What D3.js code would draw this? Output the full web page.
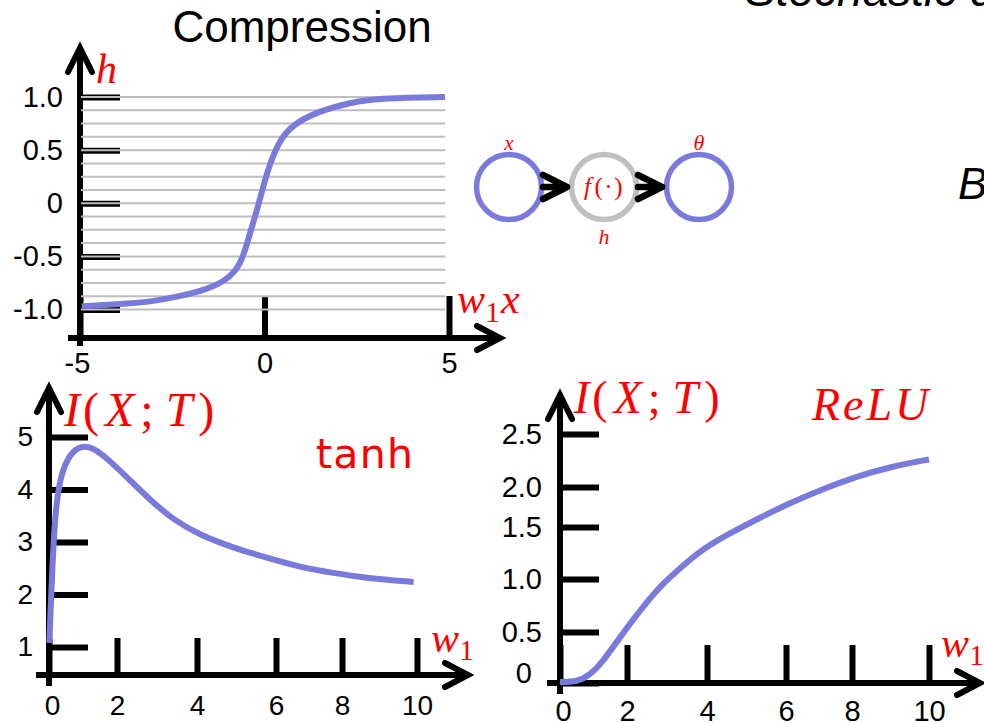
<!DOCTYPE html>
<html>
<head>
<meta charset="utf-8">
<script src="https://cdn.jsdelivr.net/npm/d3@7"></script>
<style>
  body { margin: 0; background: #fff; }
  svg { display: block; }
</style>
</head>
<body>
<script>
// ---- data ----
// compression panel: h against w1*x
var compX = [-4.95, -4.0, -3.1, -2.21, -1.56, -1.12, -0.8, -0.58, -0.39, -0.2, -0.04, 0.15, 0.42, 0.77, 1.42, 2.32, 3.21, 4.89];
var compH = [-0.97, -0.95, -0.93, -0.87, -0.81, -0.74, -0.65, -0.51, -0.28, -0.06, 0.15, 0.38, 0.6, 0.74, 0.86, 0.95, 0.99, 1.0];
var hLevels = [-1, -0.875, -0.75, -0.625, -0.5, -0.375, -0.25, -0.125, 0, 0.125, 0.25, 0.375, 0.5, 0.625, 0.75, 0.875, 1];
var compXTicks = [-5, 0, 5];
var compYTicks = [1.0, 0.5, 0, -0.5, -1.0];
var compYLabels = ["1.0", "0.5", "0", "-0.5", "-1.0"];

// tanh panel: I(X;T) against w1
var tanhW = [0.01, 0.05, 0.1, 0.16, 0.24, 0.37, 0.57, 0.81, 1.06, 1.3, 1.7, 2.24, 2.83, 3.41, 4.08, 4.92, 5.77, 6.73, 7.74, 8.66, 9.91];
var tanhI = [1.08, 1.76, 2.52, 3.29, 3.86, 4.31, 4.62, 4.79, 4.83, 4.79, 4.6, 4.24, 3.8, 3.42, 3.13, 2.89, 2.7, 2.52, 2.41, 2.31, 2.24];
var tanhXTicks = [0, 2, 4, 6, 8, 10];
var tanhYTicks = [1, 2, 3, 4, 5];

// ReLU panel
var reluW = [0, 0.5, 0.9, 1.28, 1.88, 2.4, 2.9, 3.4, 3.9, 4.58, 5.27, 6.12, 7.12, 8.13, 8.99, 10.0];
var reluI = [0.01, 0.01, 0.08, 0.21, 0.49, 0.74, 0.96, 1.13, 1.29, 1.44, 1.6, 1.8, 1.975, 2.1, 2.19, 2.26];
var reluXTicks = [0, 2, 4, 6, 8, 10];
var reluYTicks = [0, 0.5, 1.0, 1.5, 2.0, 2.5];
var reluYLabels = ["0", "0.5", "1.0", "1.5", "2.0", "2.5"];

// network nodes
var nodeNames = ["x", "h", "theta"];

var blue = "#7a7adc", red = "#ff0000", grey = "#bebebe";
var sans = "'Liberation Sans', Arial, sans-serif";
var serif = "'Liberation Serif', 'Times New Roman', serif";

var svg = d3.select("body").append("svg")
    .attr("width", 984)
    .attr("height", 723);

function axisLine(g, x1, y1, x2, y2) {
  g.append("line")
    .attr("x1", x1).attr("y1", y1).attr("x2", x2).attr("y2", y2)
    .attr("stroke", "#000").attr("stroke-width", 6);
}
function arrowUp(g, x, y) {
  g.append("path")
    .attr("d", "M" + (x - 12) + "," + (y + 24) + "L" + x + "," + y + "L" + (x + 12) + "," + (y + 24))
    .attr("fill", "none").attr("stroke", "#000").attr("stroke-width", 6)
    .attr("stroke-linecap", "round").attr("stroke-linejoin", "miter");
}
function arrowRight(g, x, y) {
  g.append("path")
    .attr("d", "M" + (x - 23) + "," + (y - 12) + "L" + x + "," + y + "L" + (x - 23) + "," + (y + 12))
    .attr("fill", "none").attr("stroke", "#000").attr("stroke-width", 6)
    .attr("stroke-linecap", "round").attr("stroke-linejoin", "miter");
}
// red math label; parts = [text, italic, dy, size, dx]
function mathText(g, x, y, size, parts) {
  var t = g.append("text")
    .attr("x", x).attr("y", y)
    .attr("fill", red)
    .attr("font-family", serif)
    .attr("font-size", size);
  parts.forEach(function(p) {
    var s = t.append("tspan").text(p[0]).attr("font-style", p[1] ? "italic" : "normal");
    if (p[2]) s.attr("dy", p[2]);
    if (p[3]) s.attr("font-size", p[3]);
    if (p[4]) s.attr("dx", p[4]);
  });
  return t;
}
function styleTicks(ax, fontSize) {
  ax.select(".domain").remove();
  ax.selectAll(".tick line").attr("stroke-width", 6);
  ax.selectAll(".tick text")
    .attr("font-size", fontSize)
    .attr("font-family", sans)
    .attr("fill", "#000");
}
var smooth = d3.curveBasis;

// ---------- Compression panel ----------
var cx = d3.scaleLinear().domain([-5, 5]).range([80, 449]);
var cy = d3.scaleLinear().domain([-1, 1]).range([309.5, 97]);
var gc = svg.append("g");

gc.append("text")
  .attr("x", 302).attr("y", 42)
  .attr("text-anchor", "middle")
  .attr("font-family", sans).attr("font-size", 44)
  .text("Compression");

axisLine(gc, 80, 52, 80, 346);
axisLine(gc, 68, 338, 496, 338);
arrowUp(gc, 80, 48);
arrowRight(gc, 500, 338);

var cyAxis = d3.axisRight(cy).tickValues(compYTicks).tickSize(40)
    .tickFormat(function(d, i) { return compYLabels[i]; });
var cyg = gc.append("g").attr("transform", "translate(80,0)").call(cyAxis);
styleTicks(cyg, 29);
cyg.selectAll(".tick text").attr("x", -17).attr("text-anchor", "end");

var cxAxis = d3.axisTop(cx).tickValues(compXTicks).tickSize(42).tickFormat(String);
var cxg = gc.append("g").attr("transform", "translate(0,338)").call(cxAxis);
styleTicks(cxg, 29);
cxg.selectAll(".tick text").attr("y", 35).attr("dy", 0);
cxg.selectAll(".tick text").filter(function(d) { return d === -5; }).attr("dx", -3);

gc.selectAll("line.level")
  .data(hLevels)
  .enter().append("line")
  .attr("class", "level")
  .attr("x1", 81).attr("x2", cx(4.9))
  .attr("y1", function(d) { return cy(d); })
  .attr("y2", function(d) { return cy(d); })
  .attr("stroke", grey).attr("stroke-width", 2);

var compLine = d3.line()
    .x(function(d, i) { return cx(compX[i]); })
    .y(function(d) { return cy(d); })
    .curve(smooth);
gc.append("path")
  .attr("d", compLine(compH))
  .attr("fill", "none").attr("stroke", blue).attr("stroke-width", 6);

mathText(gc, 96, 83, 42, [["h", true]]);
mathText(gc, 457, 313, 42, [["w", true], ["1", false, 9, 30], ["x", true, -9, 42, 1]]);

// ---------- network diagram ----------
var nx = d3.scalePoint().domain(nodeNames).range([509, 699]);
var gn = svg.append("g");
gn.selectAll("circle")
  .data(nodeNames)
  .enter().append("circle")
  .attr("cx", function(d) { return nx(d); })
  .attr("cy", 187)
  .attr("r", 32.5)
  .attr("fill", "none")
  .attr("stroke", function(d) { return d === "h" ? "#c0c0c0" : blue; })
  .attr("stroke-width", 5.5);

[["x", "h"], ["h", "theta"]].forEach(function(e) {
  var x0 = nx(e[0]) + 34, x1 = nx(e[1]) - 37;
  gn.append("path")
    .attr("d", "M" + x0 + ",175L" + x1 + ",187L" + x0 + ",199M" + x0 + ",187L" + x1 + ",187")
    .attr("fill", "none").attr("stroke", "#000").attr("stroke-width", 6.5)
    .attr("stroke-linecap", "round").attr("stroke-linejoin", "round");
});

mathText(gn, nx("x"), 150, 21, [["x", true]]).attr("text-anchor", "middle");
mathText(gn, nx("theta"), 150, 22, [["\u03b8", true]]).attr("text-anchor", "middle");
mathText(gn, nx("h"), 195, 25, [["f", true], ["(\u00b7)", false, 0, 0, 2]])
  .attr("text-anchor", "middle").attr("letter-spacing", 1.5);
mathText(gn, nx("h"), 244, 22, [["h", true]]).attr("text-anchor", "middle");

// cut-off slide text
svg.append("text")
  .attr("x", 745).attr("y", 6)
  .attr("font-family", sans).attr("font-style", "italic").attr("font-size", 46)
  .text("Stochastic dynamics");
svg.append("text")
  .attr("x", 958).attr("y", 199)
  .attr("font-family", sans).attr("font-style", "italic").attr("font-size", 44)
  .text("B");

// ---------- tanh panel ----------
var tx = d3.scaleLinear().domain(tanhXTicks).range([49, 117, 197, 276, 342, 417]);
var ty = d3.scaleLinear().domain([1, 5]).range([647, 437]);
var gt = svg.append("g");

axisLine(gt, 49, 392, 49, 686);
axisLine(gt, 36, 675, 464, 675);
arrowUp(gt, 49, 388);
arrowRight(gt, 468, 675);

var tyg = gt.append("g").attr("transform", "translate(49,0)")
    .call(d3.axisRight(ty).tickValues(tanhYTicks).tickSize(39).tickFormat(String));
styleTicks(tyg, 28);
tyg.selectAll(".tick text").attr("x", -16).attr("text-anchor", "end");

var txg = gt.append("g").attr("transform", "translate(0,675)")
    .call(d3.axisTop(tx).tickValues(tanhXTicks).tickSize(37).tickFormat(String));
styleTicks(txg, 28);
txg.selectAll(".tick text").attr("y", 40).attr("dy", 0);
txg.selectAll(".tick text").filter(function(d) { return d === 0; }).attr("dx", 3);

var tanhLine = d3.line()
    .x(function(d, i) { return tx(tanhW[i]); })
    .y(function(d) { return ty(d); })
    .curve(smooth);
gt.append("path")
  .attr("d", tanhLine(tanhI))
  .attr("fill", "none").attr("stroke", blue).attr("stroke-width", 6);

mathText(gt, 64, 426, 48, [["I", true], ["(", false, 0, 0, 3], ["X", true, 0, 0, 6], [";", false, 0, 0, 6], ["T", true, 0, 0, 12], [")", false, 0, 0, 6]]);
gt.append("text")
  .attr("x", 316).attr("y", 468)
  .attr("fill", red)
  .attr("font-family", "'DejaVu Sans', sans-serif").attr("font-size", 41)
  .attr("textLength", 97).attr("lengthAdjust", "spacing")
  .text("tanh");
mathText(gt, 431, 652, 42, [["w", true], ["1", false, 8, 30]]);

// ---------- ReLU panel ----------
var rx = d3.scaleLinear().domain(reluXTicks).range([560, 627, 707, 786, 852, 929]);
var ry = d3.scaleLinear().domain(reluYTicks).range([683, 632, 579, 527, 487, 434]);
var gr = svg.append("g");

axisLine(gr, 560, 399, 560, 694);
axisLine(gr, 547, 683, 976, 683);
arrowUp(gr, 560, 395);
arrowRight(gr, 980, 683);

var ryg = gr.append("g").attr("transform", "translate(560,0)")
    .call(d3.axisRight(ry).tickValues(reluYTicks).tickSize(39)
      .tickFormat(function(d, i) { return reluYLabels[i]; }));
styleTicks(ryg, 29);
ryg.selectAll(".tick text").attr("x", -18).attr("text-anchor", "end");
ryg.selectAll(".tick text").filter(function(d) { return d === 0; }).attr("y", -10).attr("x", -28);

var rxg = gr.append("g").attr("transform", "translate(0,683)")
    .call(d3.axisTop(rx).tickValues(reluXTicks).tickSize(38).tickFormat(String));
styleTicks(rxg, 29);
rxg.selectAll(".tick text").attr("y", 38).attr("dy", 0);
rxg.selectAll(".tick text").filter(function(d) { return d === 0; }).attr("dx", 3);

var reluLine = d3.line()
    .x(function(d, i) { return rx(reluW[i]); })
    .y(function(d) { return ry(d); })
    .curve(smooth);
gr.append("path")
  .attr("d", reluLine(reluI))
  .attr("fill", "none").attr("stroke", blue).attr("stroke-width", 6);

mathText(gr, 574, 413, 46, [["I", true], ["(", false, 0, 0, 3], ["X", true, 0, 0, 6], [";", false, 0, 0, 6], ["T", true, 0, 0, 12], [")", false, 0, 0, 6]]);
mathText(gr, 812, 420, 46, [["ReLU", true]]).attr("letter-spacing", 3);
mathText(gr, 941, 657, 42, [["w", true], ["1", false, 8, 30]]);
</script>
</body>
</html>
